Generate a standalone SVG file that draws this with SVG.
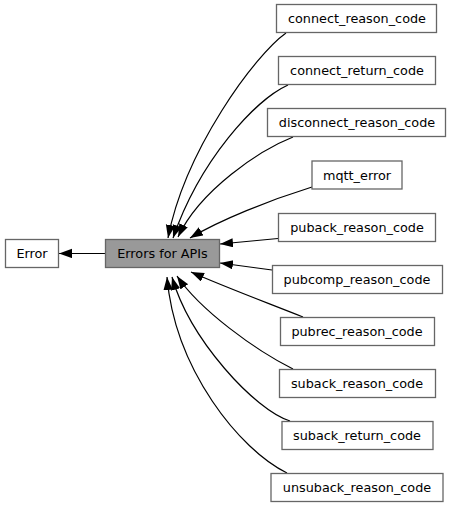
<svg xmlns="http://www.w3.org/2000/svg" width="453" height="506" viewBox="0 0 453 506">
<defs>
<style>
.n rect{fill:#ffffff;stroke:#666666;stroke-width:1.3}
.n text{font-family:"DejaVu Sans",sans-serif;font-size:12.8px;fill:#000;text-anchor:middle}
#apis rect{fill:#999999}
.e path{fill:none;stroke:#000;stroke-width:1.2;marker-end:url(#ah)}
</style>
<marker id="ah" markerUnits="userSpaceOnUse" markerWidth="14" markerHeight="10" refX="13" refY="4.65" orient="auto">
<path d="M0,0 L13,4.65 L0,9.3 z" fill="#000"/>
</marker>
</defs>
<rect width="453" height="506" fill="#ffffff"/>
<g class="e" id="edges">
<path d="M105,253.5 L59,253.5"/>
<path d="M286,33 C255,55 185,150 168,238"/>
<path d="M288,85 C255,100 200,160 173,238"/>
<path d="M293,137 C260,150 200,190 178,237"/>
<path d="M312,187 C270,200 220,220 190,238"/>
<path d="M278,238.5 L220,244"/>
<path d="M272,270 L220,263"/>
<path d="M303,317 C260,300 220,285 191,272"/>
<path d="M293,369 C255,350 200,310 177,276"/>
<path d="M290,421 C255,410 190,340 172,277"/>
<path d="M287,473 C240,450 175,370 167,277"/>
</g>
<g class="n" id="error"><rect x="5.5" y="239.5" width="53" height="28"/><text x="32" y="258">Error</text></g>
<g class="n" id="apis"><rect x="105.5" y="239.5" width="114" height="28"/><text x="162.5" y="258">Errors for APIs</text></g>
<g class="n" id="connect_reason_code"><rect x="276.5" y="4.5" width="160" height="28"/><text x="357" y="23">connect_reason_code</text></g>
<g class="n" id="connect_return_code"><rect x="278.5" y="56.5" width="157" height="28"/><text x="357" y="75">connect_return_code</text></g>
<g class="n" id="disconnect_reason_code"><rect x="267.5" y="108.5" width="178" height="28"/><text x="357" y="127">disconnect_reason_code</text></g>
<g class="n" id="mqtt_error"><rect x="312" y="161" width="90" height="28"/><text x="357" y="179.5">mqtt_error</text></g>
<g class="n" id="puback_reason_code"><rect x="278.5" y="213.5" width="157" height="28"/><text x="357" y="232">puback_reason_code</text></g>
<g class="n" id="pubcomp_reason_code"><rect x="272.5" y="265.5" width="170" height="28"/><text x="357" y="284">pubcomp_reason_code</text></g>
<g class="n" id="pubrec_reason_code"><rect x="280.5" y="317.5" width="154" height="28"/><text x="357" y="336">pubrec_reason_code</text></g>
<g class="n" id="suback_reason_code"><rect x="279.5" y="369.5" width="156" height="28"/><text x="357" y="388">suback_reason_code</text></g>
<g class="n" id="suback_return_code"><rect x="282" y="421.5" width="151" height="28"/><text x="357" y="440">suback_return_code</text></g>
<g class="n" id="unsuback_reason_code"><rect x="271" y="473.5" width="172" height="28"/><text x="357" y="492">unsuback_reason_code</text></g>
</svg>
